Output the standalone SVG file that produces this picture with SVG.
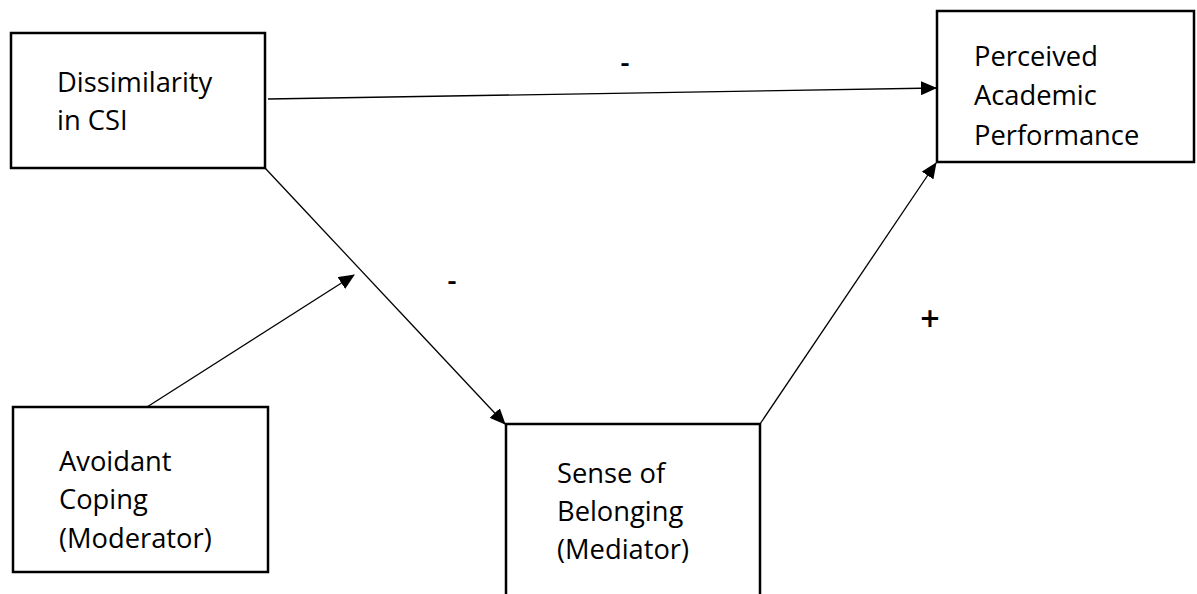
<svg xmlns="http://www.w3.org/2000/svg" width="1197" height="594" viewBox="0 0 1197 594">
<style>
.box{fill:#fff;stroke:#000;stroke-width:2.5}
.t{font-family:"Open Sans","Liberation Sans",sans-serif;font-size:27.3px;fill:#000}
.c{stroke:#000;stroke-width:1.3;fill:none}
.s{font-family:"Open Sans","Liberation Sans",sans-serif;font-size:28px;font-weight:600;fill:#000}
</style>
<defs>
<marker id="ah" markerWidth="16" markerHeight="14" refX="15" refY="7" orient="auto" markerUnits="userSpaceOnUse">
<path d="M0,0 L16,7 L0,14 Z" fill="#000"/>
</marker>
</defs>
<rect width="1197" height="594" fill="#fff"/>
<g id="connectors">
<line class="c" x1="268" y1="99" x2="936" y2="88" marker-end="url(#ah)"/>
<line class="c" x1="265" y1="168" x2="505" y2="424" marker-end="url(#ah)"/>
<line class="c" x1="147" y1="407" x2="354" y2="275" marker-end="url(#ah)"/>
<line class="c" x1="760" y1="424" x2="936" y2="163" marker-end="url(#ah)"/>
</g>
<g id="labels">
<text class="s" x="625" y="72" text-anchor="middle">-</text>
<text class="s" x="452" y="290" text-anchor="middle">-</text>
<text class="s" x="930" y="331" text-anchor="middle" style="font-size:34px">+</text>
</g>
<g id="dissimilarity">
<rect class="box" x="11" y="33" width="254" height="135"/>
<text class="t" x="57" y="92">Dissimilarity</text>
<text class="t" x="57" y="130">in CSI</text>
</g>
<g id="perceived">
<rect class="box" x="937" y="11" width="257" height="151"/>
<text class="t" x="974" y="66">Perceived</text>
<text class="t" x="974" y="105">Academic</text>
<text class="t" x="974" y="145">Performance</text>
</g>
<g id="avoidant">
<rect class="box" x="13" y="407" width="255" height="165"/>
<text class="t" x="59" y="471">Avoidant</text>
<text class="t" x="59" y="509">Coping</text>
<text class="t" x="59" y="548">(Moderator)</text>
</g>
<g id="belonging">
<path class="box" d="M506,600 V424 H760 V600"/>
<text class="t" x="557" y="483">Sense of</text>
<text class="t" x="557" y="521">Belonging</text>
<text class="t" x="557" y="559">(Mediator)</text>
</g>
</svg>
